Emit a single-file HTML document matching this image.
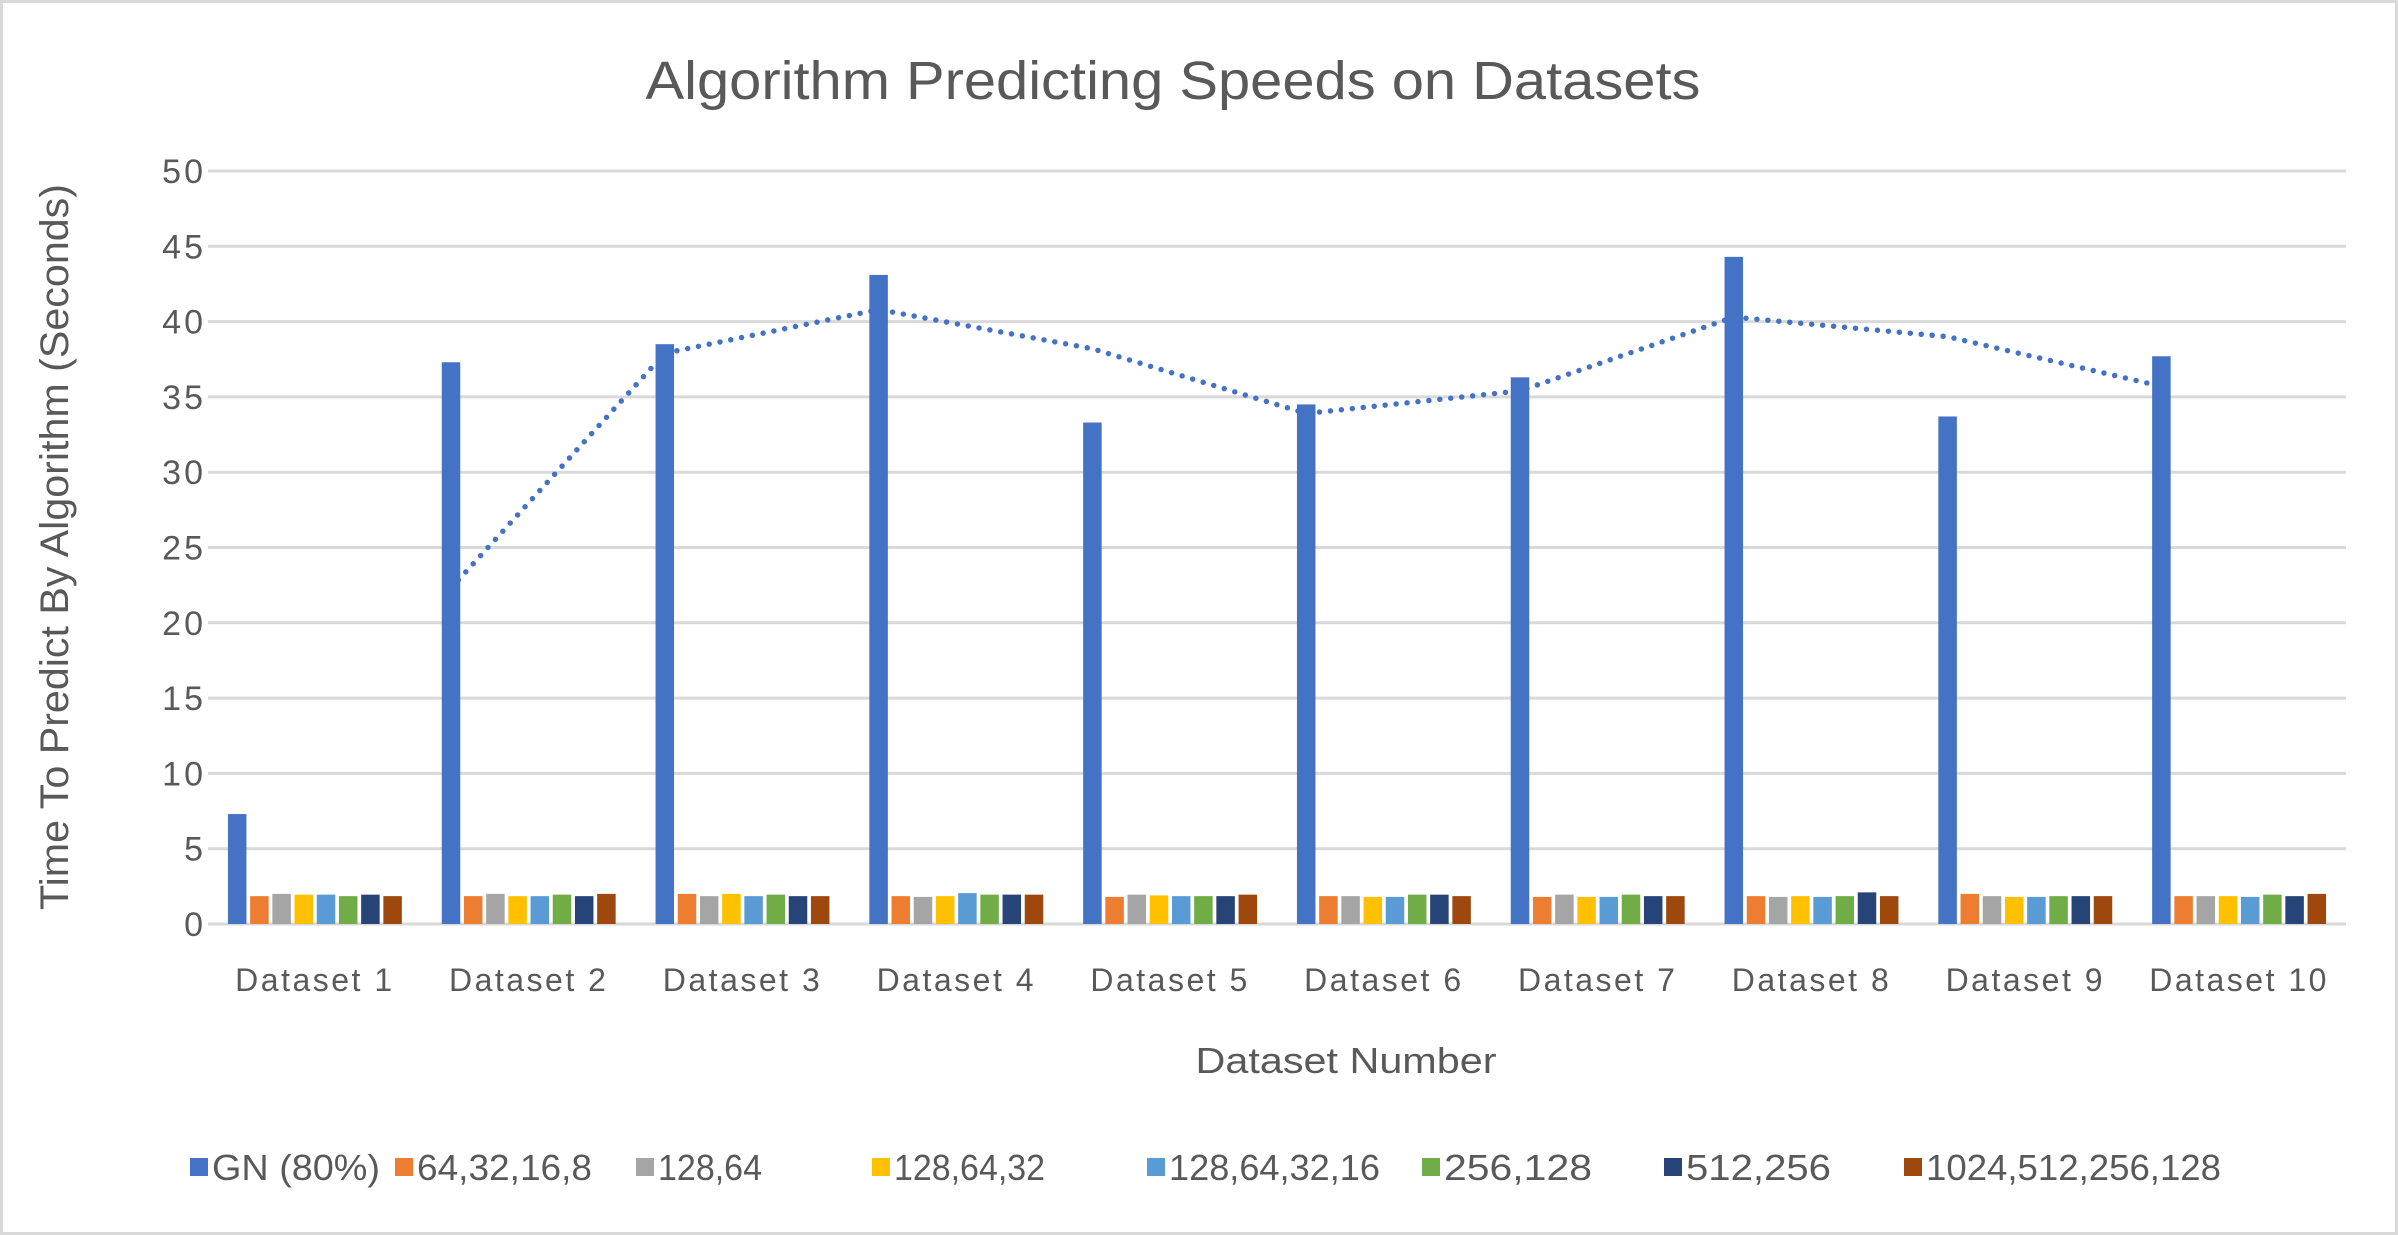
<!DOCTYPE html>
<html><head><meta charset="utf-8"><style>
html,body{margin:0;padding:0;background:#fff}
svg{display:block;font-family:"Liberation Sans",sans-serif}
</style></head><body>
<svg id="chart" width="2398" height="1235" viewBox="0 0 2398 1235" xmlns="http://www.w3.org/2000/svg">
<rect x="1.5" y="1.5" width="2395" height="1232" fill="#fff" stroke="#d9d9d9" stroke-width="3"/>
<text x="1173" y="99" text-anchor="middle" font-size="54" textLength="1055" lengthAdjust="spacingAndGlyphs" fill="#595959">Algorithm Predicting Speeds on Datasets</text>
<g id="grid"></g>
<g id="yticks"></g>
<g id="bars"></g>
<g id="trend"></g>
<g id="xticks"></g>
<text transform="translate(68,547) rotate(-90)" text-anchor="middle" font-size="40" textLength="726" lengthAdjust="spacingAndGlyphs" fill="#595959">Time To Predict By Algorithm (Seconds)</text>
<text x="1346" y="1073" text-anchor="middle" font-size="36" textLength="301" lengthAdjust="spacingAndGlyphs" fill="#595959">Dataset Number</text>
<g id="legend"></g>
</svg>
<script>
const categories=["Dataset 1","Dataset 2","Dataset 3","Dataset 4","Dataset 5","Dataset 6","Dataset 7","Dataset 8","Dataset 9","Dataset 10"];
const seriesNames=["GN (80%)","64,32,16,8","128,64","128,64,32","128,64,32,16","256,128","512,256","1024,512,256,128"];
const colors=["#4472C4","#ED7D31","#A5A5A5","#FFC000","#5B9BD5","#70AD47","#264478","#9E480E"];
const gn=[7.3,37.3,38.5,43.1,33.3,34.5,36.3,44.3,33.7,37.7];
const s1=[1.85,1.85,2.0,1.85,1.8,1.85,1.8,1.85,2.0,1.85];
const s2=[2.0,2.0,1.85,1.8,1.95,1.85,1.95,1.8,1.85,1.85];
const s3=[1.95,1.85,2.0,1.85,1.9,1.8,1.8,1.85,1.8,1.85];
const s4=[1.95,1.85,1.85,2.05,1.85,1.8,1.8,1.8,1.8,1.8];
const s5=[1.85,1.95,1.95,1.95,1.85,1.95,1.95,1.85,1.85,1.95];
const s6=[1.95,1.85,1.85,1.95,1.85,1.95,1.85,2.1,1.85,1.85];
const s7=[1.85,2.0,1.85,1.95,1.95,1.85,1.85,1.85,1.85,2.0];
const yTicks=[0,5,10,15,20,25,30,35,40,45,50];
const series=[gn,s1,s2,s3,s4,s5,s6,s7];
const NS="http://www.w3.org/2000/svg";
const L=208,R=2346,T=171,B=924,yMax=50;
const cw=(R-L)/categories.length;
const y=v=>B-(v/yMax)*(B-T);
const slot=22.2,bw=18.5;
const xBar=(ci,si)=>L+ci*cw+(cw-slot*series.length)/2+si*slot+(slot-bw)/2;
function mk(tag,attrs,parent){const e=document.createElementNS(NS,tag);for(const k in attrs)e.setAttribute(k,attrs[k]);document.getElementById(parent).appendChild(e);return e;}
yTicks.forEach(t=>{
 const g=mk('line',{x1:L,x2:R,y1:y(t),y2:y(t),stroke:'#d9d9d9','stroke-width':3},'grid');
 
 
 const tx=mk('text',{x:206,y:y(t)+12,'text-anchor':'end','font-size':34,'letter-spacing':3,fill:'#595959'},'yticks');
 tx.textContent=t;
 
 
});
series.forEach((s,si)=>{s.forEach((v,ci)=>{
 const r=mk('rect',{x:xBar(ci,si),y:y(v),width:bw,height:B-y(v),fill:colors[si]},'bars');
 
 
});});
categories.forEach((c,ci)=>{
 const t=mk('text',{x:L+ci*cw+cw/2,y:991,'text-anchor':'middle','font-size':32,'letter-spacing':2.5,fill:'#595959'},'xticks');
 t.textContent=c;
 
 
});
let pts=[];
for(let i=1;i<gn.length;i++){pts.push((xBar(i,0)+bw/2)+','+y((gn[i]+gn[i-1])/2));}
const pl=mk('polyline',{points:pts.join(' '),fill:'none',stroke:'#4472C4','stroke-width':5.5,'stroke-linecap':'round','stroke-dasharray':'0 11'},'trend');


const legX=[190,395,636,872,1147,1422,1664,1904];
const legW=[168,175,104,151,211,148,145,295];
seriesNames.forEach((n,i)=>{
 const sq=mk('rect',{x:legX[i],y:1158,width:18,height:18,fill:colors[i]},'legend');
 
 
 const t=mk('text',{x:legX[i]+22,y:1180,'font-size':36,fill:'#595959',textLength:legW[i],lengthAdjust:'spacingAndGlyphs'},'legend');
 t.textContent=n;
 
 
});
</script>
</body></html>
